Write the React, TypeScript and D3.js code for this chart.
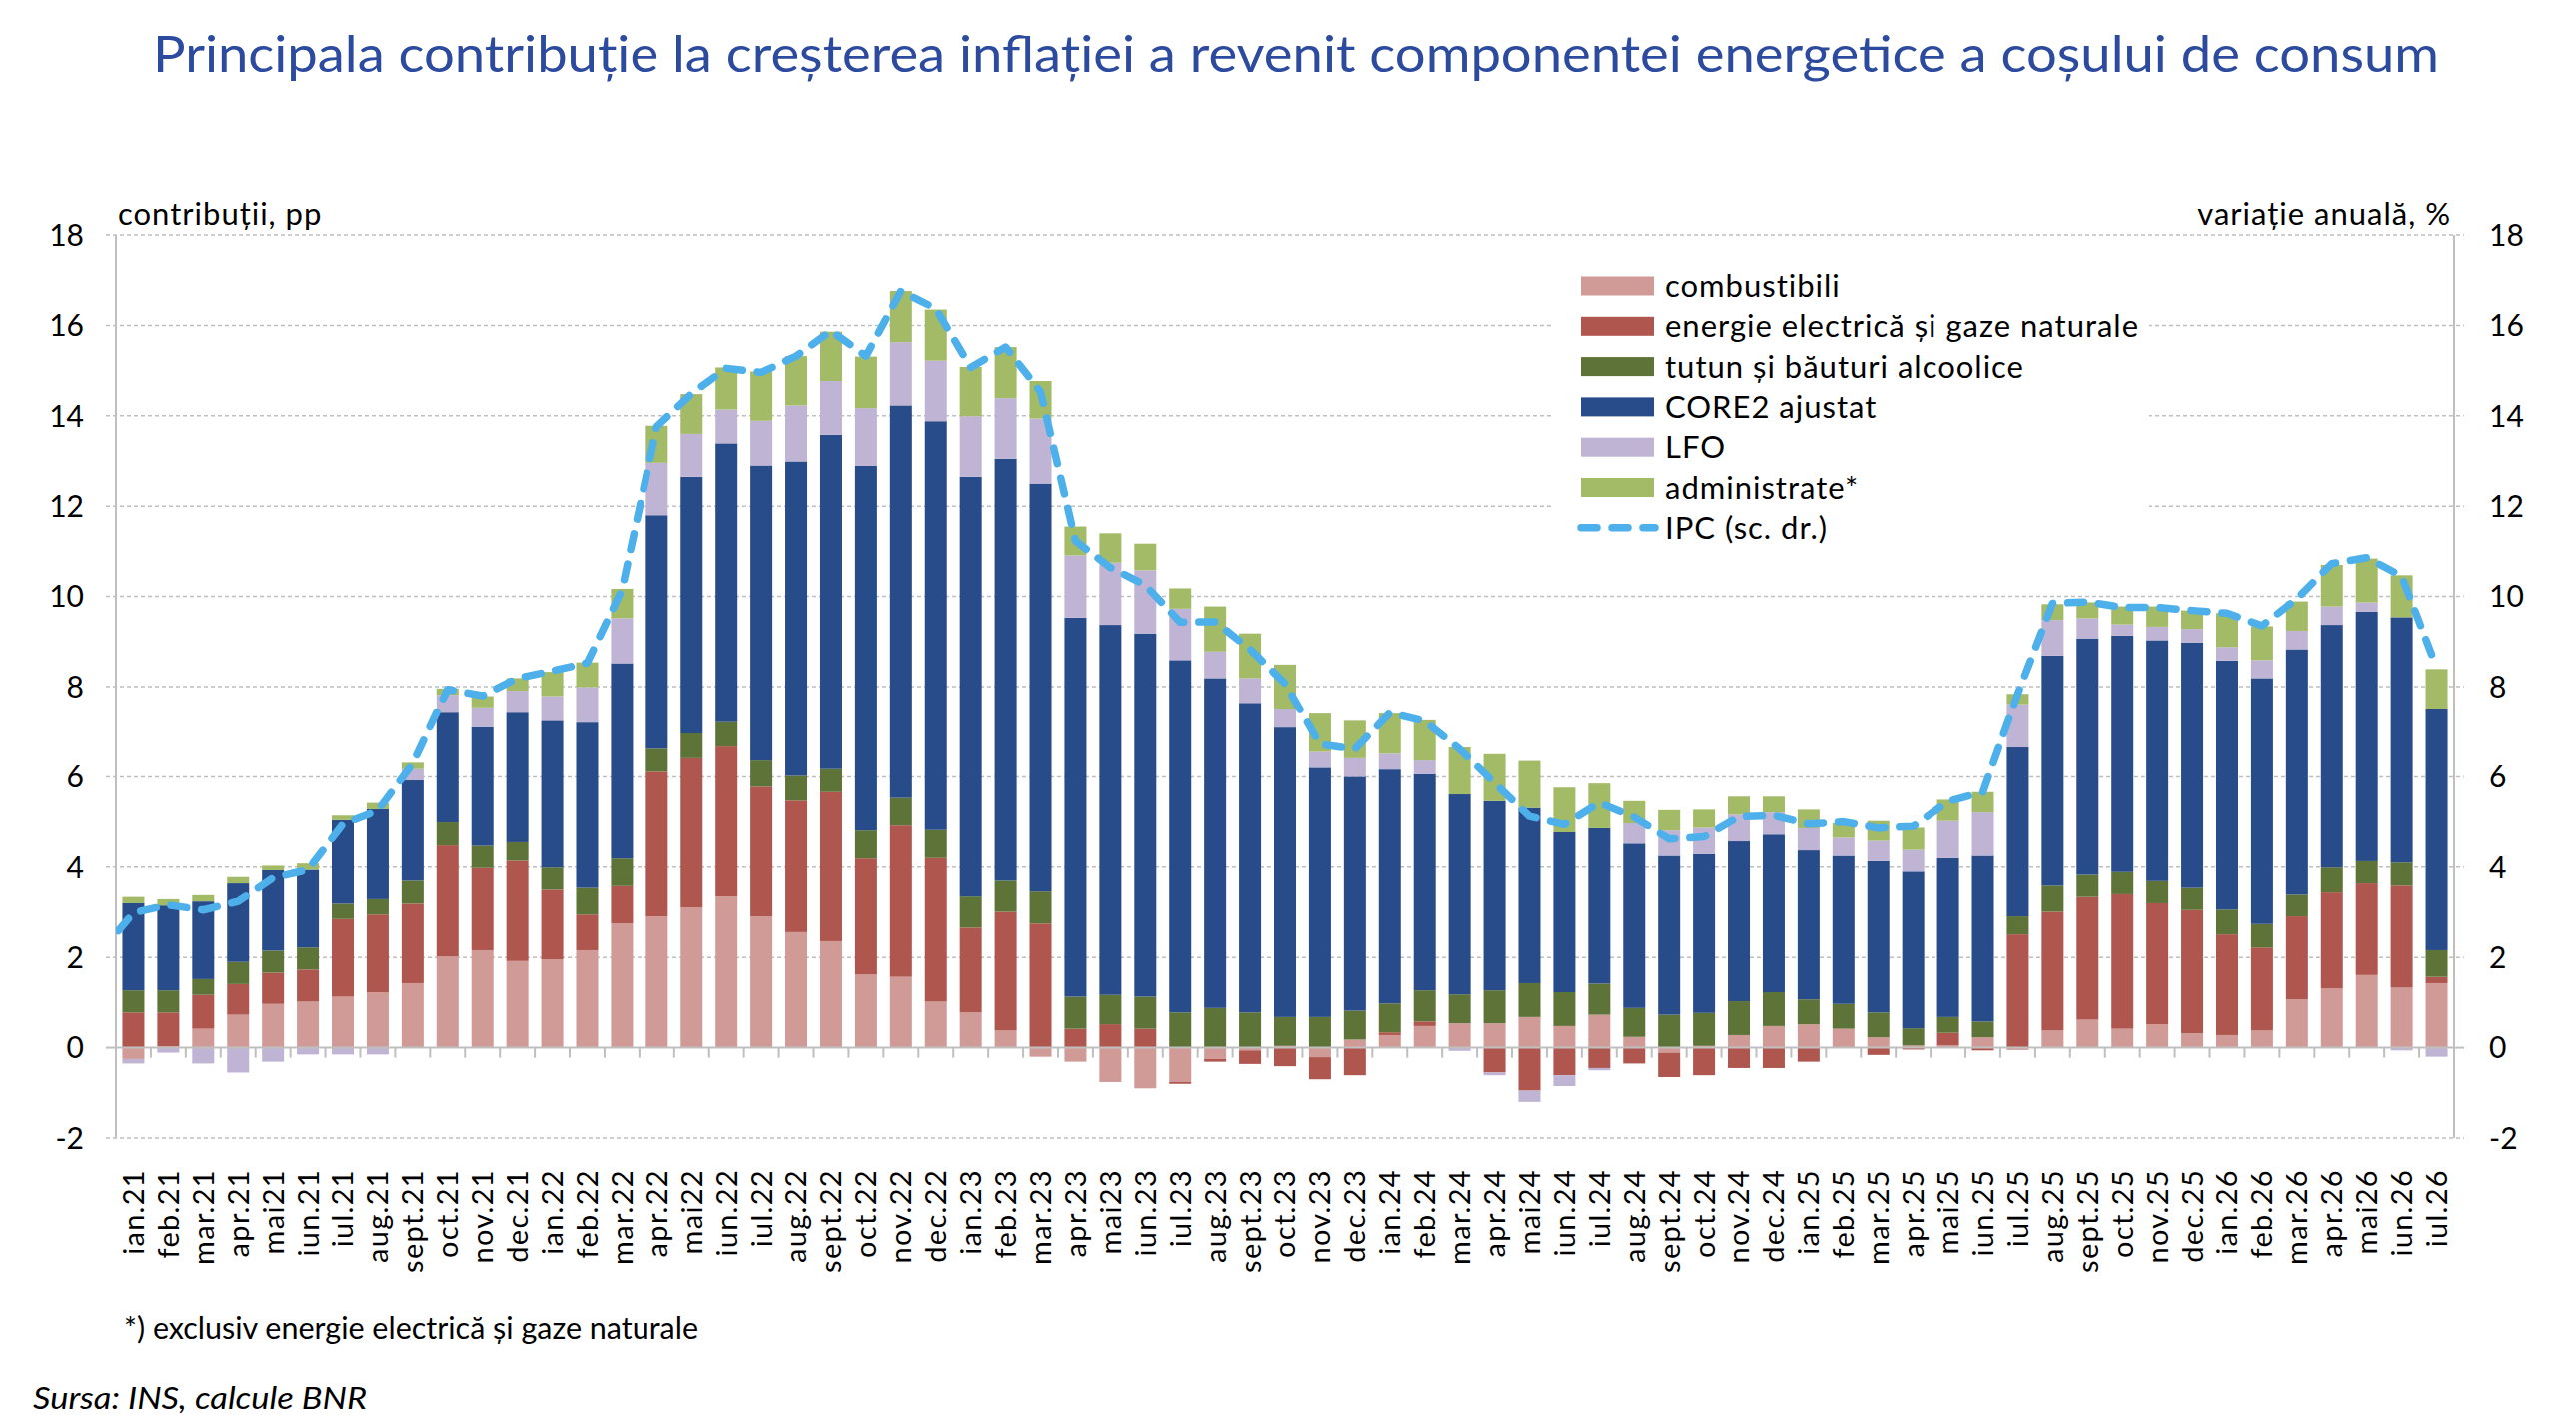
import React from "react";
import * as d3 from "d3";

const categories = [
  "ian.21","feb.21","mar.21","apr.21","mai21","iun.21","iul.21","aug.21","sept.21","oct.21","nov.21","dec.21",
  "ian.22","feb.22","mar.22","apr.22","mai22","iun.22","iul.22","aug.22","sept.22","oct.22","nov.22","dec.22",
  "ian.23","feb.23","mar.23","apr.23","mai23","iun.23","iul.23","aug.23","sept.23","oct.23","nov.23","dec.23",
  "ian.24","feb.24","mar.24","apr.24","mai24","iun.24","iul.24","aug.24","sept.24","oct.24","nov.24","dec.24",
  "ian.25","feb.25","mar.25","apr.25","mai25","iun.25","iul.25","aug.25","sept.25","oct.25","nov.25","dec.25",
  "ian.26","feb.26","mar.26","apr.26","mai26","iun.26","iul.26",
];

const combustibili = [
  -0.25,0.03,0.42,0.73,0.97,1.02,1.13,1.23,1.43,2.02,2.16,1.92,
  1.96,2.16,2.75,2.91,3.11,3.35,2.91,2.56,2.36,1.62,1.57,1.02,
  0.78,0.38,-0.20,-0.31,-0.76,-0.90,-0.76,-0.25,-0.06,0.04,-0.21,0.18,
  0.28,0.48,0.54,0.54,0.68,0.48,0.73,0.24,-0.11,0.04,0.28,0.48,
  0.52,0.42,0.23,0.05,0.05,0.23,-0.05,0.38,0.62,0.42,0.52,0.32,
  0.28,0.38,1.07,1.31,1.61,1.33,1.43,
];

const energie = [
  0.78,0.75,0.75,0.68,0.69,0.71,1.72,1.72,1.76,2.46,1.82,2.22,
  1.54,0.79,0.83,3.20,3.30,3.32,2.87,2.91,3.30,2.57,3.35,3.18,
  1.88,2.63,2.75,0.42,0.52,0.42,-0.04,-0.06,-0.30,-0.41,-0.49,-0.61,
  0.06,0.10,0.00,-0.55,-0.95,-0.61,-0.45,-0.35,-0.54,-0.61,-0.45,-0.45,
  -0.31,0.00,-0.16,-0.04,0.28,-0.06,2.51,2.63,2.72,2.98,2.68,2.73,
  2.23,1.84,1.84,2.13,2.03,2.26,0.14,
];

const tutun = [
  0.49,0.49,0.35,0.49,0.49,0.49,0.34,0.34,0.51,0.51,0.49,0.41,
  0.49,0.59,0.61,0.51,0.55,0.54,0.58,0.55,0.51,0.62,0.61,0.62,
  0.69,0.69,0.71,0.71,0.65,0.71,0.78,0.88,0.78,0.64,0.68,0.64,
  0.64,0.69,0.64,0.73,0.75,0.75,0.69,0.64,0.73,0.73,0.75,0.75,
  0.55,0.55,0.55,0.38,0.35,0.35,0.40,0.58,0.49,0.49,0.49,0.49,
  0.55,0.52,0.48,0.55,0.49,0.51,0.59,
];

const core2 = [
  1.93,1.88,1.72,1.74,1.78,1.72,1.85,1.99,2.22,2.43,2.63,2.87,
  3.25,3.66,4.33,5.18,5.69,6.18,6.54,6.97,7.41,8.08,8.70,9.06,
  9.30,9.35,9.04,8.40,8.20,8.05,7.81,7.31,6.86,6.41,5.52,5.18,
  5.18,4.79,4.43,4.19,3.88,3.54,3.44,3.64,3.52,3.52,3.54,3.49,
  3.30,3.28,3.35,3.47,3.52,3.67,3.74,5.10,5.24,5.24,5.34,5.44,
  5.52,5.45,5.44,5.38,5.53,5.44,5.34,
];

const lfo = [
  -0.10,-0.11,-0.35,-0.55,-0.31,-0.15,-0.15,-0.15,0.25,0.40,0.44,0.49,
  0.55,0.79,1.00,1.16,0.95,0.75,0.99,1.24,1.19,1.28,1.40,1.34,
  1.34,1.34,1.44,1.38,1.38,1.40,1.14,0.59,0.55,0.41,0.35,0.41,
  0.35,0.30,-0.07,-0.06,-0.25,-0.24,-0.05,0.45,0.56,0.58,0.59,0.49,
  0.49,0.40,0.45,0.48,0.82,0.96,0.96,0.79,0.45,0.25,0.30,0.30,
  0.30,0.40,0.41,0.41,0.21,-0.06,-0.20,
];

const administrate = [
  0.14,0.14,0.14,0.14,0.10,0.14,0.10,0.14,0.14,0.14,0.25,0.28,
  0.54,0.55,0.65,0.82,0.88,0.93,1.09,1.09,1.09,1.14,1.13,1.13,
  1.09,1.13,0.83,0.64,0.65,0.59,0.45,1.00,0.99,0.99,0.85,0.83,
  0.89,0.89,1.04,1.04,1.04,0.99,0.99,0.49,0.45,0.40,0.40,0.35,
  0.41,0.32,0.44,0.49,0.47,0.45,0.23,0.35,0.35,0.40,0.45,0.41,
  0.75,0.75,0.65,0.92,0.97,0.93,0.89,
];

// IPC annual change, %, right axis; the previous month (dec.20) is drawn clipped at the axis
const ipcPrevMonth = 2.06;
const ipc = [
  2.99,3.16,3.05,3.24,3.76,3.94,4.95,5.25,6.29,7.94,7.80,8.19,
  8.35,8.53,10.15,13.76,14.49,15.05,14.96,15.32,15.88,15.32,16.76,16.37,
  15.07,15.52,14.53,11.23,10.64,10.25,9.43,9.44,8.83,8.07,6.72,6.61,
  7.41,7.23,6.61,5.86,5.12,4.94,5.42,5.10,4.62,4.67,5.11,5.14,
  4.95,5.00,4.86,4.90,5.45,5.66,7.84,9.85,9.88,9.76,9.76,9.69,
  9.63,9.35,9.95,10.73,10.86,10.45,8.42,
];

const yTicks = [-2, 0, 2, 4, 6, 8, 10, 12, 14, 16, 18];

const seriesKeys = ["combustibili", "energie", "tutun", "core2", "lfo", "administrate"];
const seriesLabels = [
  "combustibili",
  "energie electrică și gaze naturale",
  "tutun  și băuturi alcoolice",
  "CORE2 ajustat",
  "LFO",
  "administrate*",
];
const seriesColors = ["#D09A97", "#AF564F", "#5E7337", "#284B89", "#BFB4D4", "#A3BA67"];
const seriesValues = [combustibili, energie, tutun, core2, lfo, administrate];
const ipcLabel = "IPC (sc. dr.)";
const ipcColor = "#4DB0EA";

const FONT = "Lato, 'Open Sans', sans-serif";

export default function App() {
  const W = 2578;
  const H = 1420;
  const left = 116;
  const right = 2456;
  const top = 235;
  const bottom = 1139;

  const x = d3.scaleBand<string>().domain(categories).range([left, right]).paddingInner(0.37).paddingOuter(0.185);
  const y = d3.scaleLinear().domain([-2, 18]).range([bottom, top]);
  const y2 = d3.scaleLinear().domain([-2, 18]).range([bottom, top]);
  const step = x.step();
  const bw = x.bandwidth();

  const rows = categories.map((c, i) => {
    const r: any = { cat: c };
    seriesKeys.forEach((k, j) => (r[k] = seriesValues[j][i]));
    return r;
  });
  const stacked = d3.stack<any>().keys(seriesKeys).offset(d3.stackOffsetDiverging)(rows);

  const cx = (i: number) => (x(categories[0]) as number) + bw / 2 + i * step;
  const linePts: [number, number][] = [[cx(-1), y2(ipcPrevMonth)]].concat(
    ipc.map((v, i) => [cx(i), y2(v)] as [number, number])
  ) as [number, number][];
  const linePath = d3.line()(linePts) || "";

  const legendX = 1553;
  const legendY = 245;
  const rowY = (i: number) => 286 + i * 40.3;

  const boundaries = d3.range(categories.length + 1).map((i) => left + i * step);

  return (
    <svg
      width={W}
      height={H}
      viewBox={`0 0 ${W} ${H}`}
      style={{ position: "absolute", left: 0, top: 0, background: "#fff" }}
      fontFamily={FONT}
    >
      <rect x={0} y={0} width={W} height={H} fill="#fff" />
      <defs>
        <clipPath id="plotClip">
          <rect x={left} y={0} width={right - left} height={H} />
        </clipPath>
      </defs>

      {/* title */}
      <text
        x={153}
        y={72}
        fontSize={51}
        fill="#2C4A9E"
        textLength={2288}
        lengthAdjust="spacingAndGlyphs"
      >
        Principala contribuție la creșterea inflației a revenit componentei energetice a coșului de consum
      </text>

      {/* axis titles */}
      <text x={118} y={225} fontSize={31} letterSpacing={1} fill="#000">
        contribuții, pp
      </text>
      <text x={2453} y={225} fontSize={31} letterSpacing={1} fill="#000" textAnchor="end">
        variație anuală, %
      </text>

      {/* gridlines */}
      {yTicks.filter((t) => t !== 0).map((t) => (
        <line
          key={"g" + t}
          x1={left - 10}
          x2={right + 10}
          y1={y(t)}
          y2={y(t)}
          stroke="#BFBFBF"
          strokeWidth={1.5}
          strokeDasharray="4 3"
        />
      ))}

      {/* y axes */}
      <line x1={left} x2={left} y1={top} y2={bottom} stroke="#BFBFBF" strokeWidth={2} />
      <line x1={right} x2={right} y1={top} y2={bottom} stroke="#BFBFBF" strokeWidth={2} />
      <line x1={left - 10} x2={left} y1={y(0)} y2={y(0)} stroke="#BFBFBF" strokeWidth={2} />
      <line x1={right} x2={right + 10} y1={y(0)} y2={y(0)} stroke="#BFBFBF" strokeWidth={2} />
      {yTicks.map((t) => (
        <text key={"l" + t} x={84} y={y(t)} dy="0.36em" fontSize={30} textAnchor="end" fill="#000">
          {t}
        </text>
      ))}
      {yTicks.map((t) => (
        <text key={"r" + t} x={2491} y={y2(t)} dy="0.36em" fontSize={30} textAnchor="start" fill="#000">
          {t}
        </text>
      ))}

      {/* bars */}
      {stacked.map((layer, j) => (
        <g key={layer.key} fill={seriesColors[j]}>
          {layer.map((d, i) => {
            const y0 = y(d[0]);
            const y1 = y(d[1]);
            const h = Math.abs(y0 - y1);
            if (h < 0.01) return null;
            return (
              <rect
                key={i}
                x={x(categories[i]) as number}
                y={Math.min(y0, y1)}
                width={bw}
                height={h}
              />
            );
          })}
        </g>
      ))}

      {/* category axis at zero */}
      <line x1={left} x2={right} y1={y(0)} y2={y(0)} stroke="#BFBFBF" strokeWidth={2} />
      {boundaries.map((bx, i) => (
        <line key={"t" + i} x1={bx} x2={bx} y1={y(0)} y2={y(0) + 10} stroke="#BFBFBF" strokeWidth={2} />
      ))}

      {/* x labels */}
      {categories.map((c, i) => (
        <text
          key={"x" + c}
          transform={`translate(${cx(i)},1170) rotate(-90)`}
          dy="0.36em"
          fontSize={29}
          letterSpacing={1.3}
          textAnchor="end"
          fill="#000"
        >
          {c}
        </text>
      ))}

      {/* IPC line */}
      <g clipPath="url(#plotClip)">
        <path
          d={linePath}
          fill="none"
          stroke={ipcColor}
          strokeWidth={7.5}
          strokeDasharray="16 15"
          strokeLinecap="round"
          strokeLinejoin="round"
        />
      </g>

      {/* legend */}
      <rect x={legendX} y={legendY} width={598} height={315} fill="#fff" />
      {seriesLabels.map((lab, i) => (
        <g key={"lg" + i}>
          <rect x={1582} y={rowY(i) - 9.5} width={73} height={19} fill={seriesColors[i]} />
          <text x={1666} y={rowY(i)} dy="0.36em" fontSize={31} letterSpacing={1} fill="#000">
            {lab}
          </text>
        </g>
      ))}
      <line
        x1={1582}
        x2={1656}
        y1={rowY(6)}
        y2={rowY(6)}
        stroke={ipcColor}
        strokeWidth={7.5}
        strokeDasharray="16 15"
        strokeLinecap="round"
      />
      <text x={1666} y={rowY(6)} dy="0.36em" fontSize={31} letterSpacing={1} fill="#000">
        {ipcLabel}
      </text>

      {/* notes */}
      <text x={124} y={1340} fontSize={30} fill="#000" textLength={575} lengthAdjust="spacingAndGlyphs">
        *) exclusiv energie electrică și gaze naturale
      </text>
      <text x={33} y={1410} fontSize={31} fontStyle="italic" fill="#000" textLength={334} lengthAdjust="spacingAndGlyphs">
        Sursa: INS, calcule BNR
      </text>
    </svg>
  );
}
